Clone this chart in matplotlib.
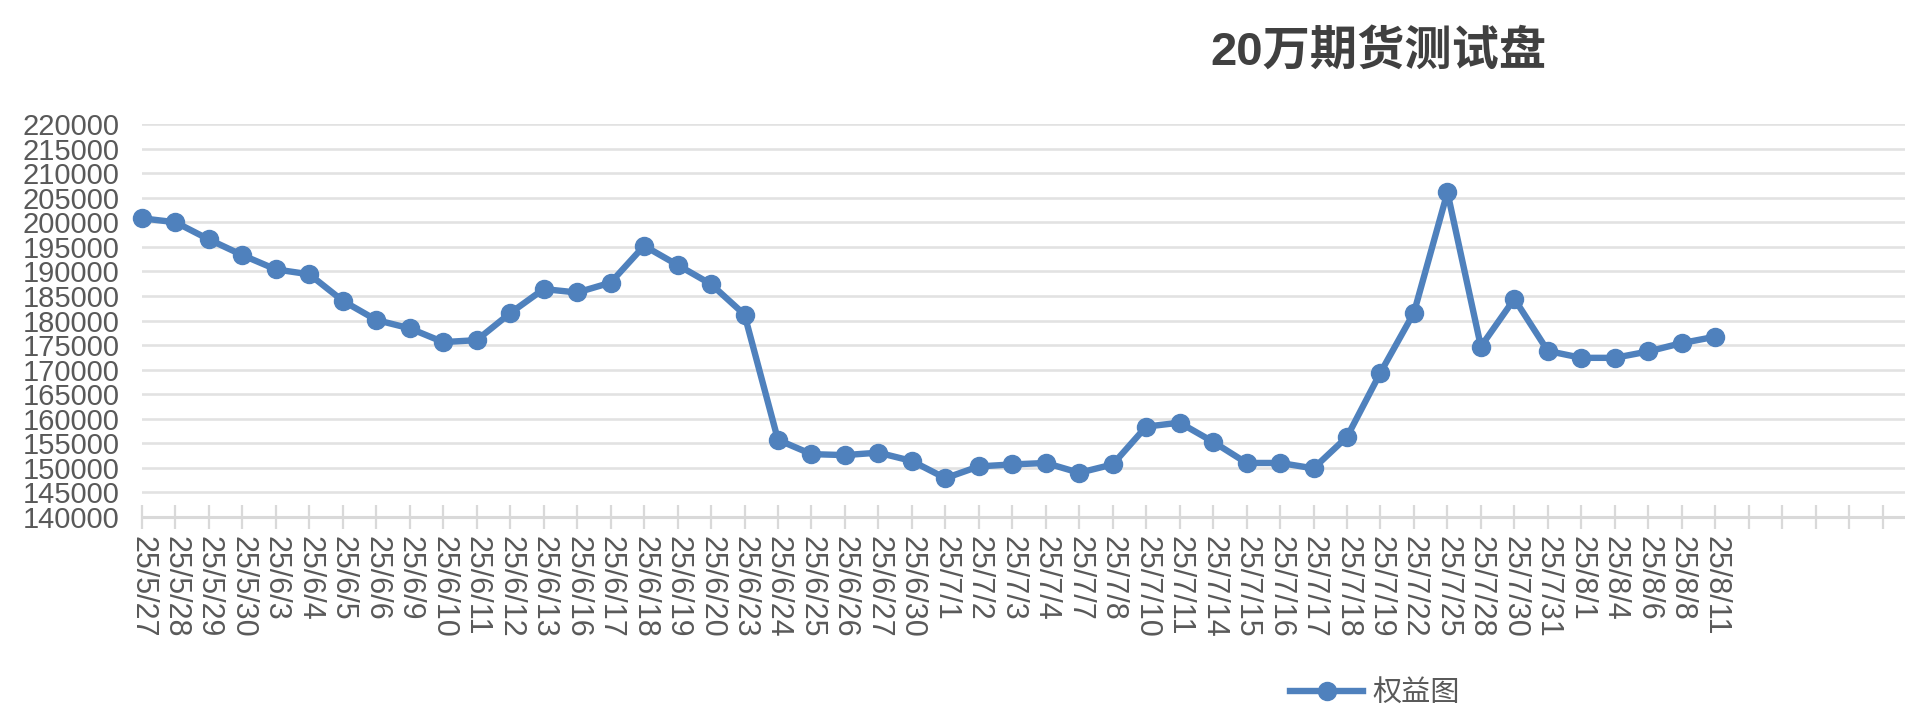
import matplotlib.pyplot as plt

# 日期标签与权益数值
dates = [
    "25/5/27", "25/5/28", "25/5/29", "25/5/30", "25/6/3", "25/6/4", "25/6/5",
    "25/6/6", "25/6/9", "25/6/10", "25/6/11", "25/6/12", "25/6/13", "25/6/16",
    "25/6/17", "25/6/18", "25/6/19", "25/6/20", "25/6/23", "25/6/24", "25/6/25",
    "25/6/26", "25/6/27", "25/6/30", "25/7/1", "25/7/2", "25/7/3", "25/7/4",
    "25/7/7", "25/7/8", "25/7/10", "25/7/11", "25/7/14", "25/7/15", "25/7/16",
    "25/7/17", "25/7/18", "25/7/19", "25/7/22", "25/7/25", "25/7/28", "25/7/30",
    "25/7/31", "25/8/1", "25/8/4", "25/8/6", "25/8/8", "25/8/11",
]
equity = [
    200800, 200000, 196500, 193300, 190400, 189400, 184000,
    180100, 178400, 175600, 176000, 181500, 186400, 185700,
    187700, 195200, 191300, 187400, 181200, 155700, 152800,
    152600, 153100, 151400, 147900, 150300, 150700, 151000,
    149000, 150700, 158400, 159200, 155300, 151000, 151000,
    149900, 156300, 169400, 181600, 206100, 174700, 184400,
    173800, 172400, 172400, 173700, 175400, 176700,
]
n_empty = 5  # 右侧空白类别

y_ticks = list(range(140000, 220001, 5000))

blue = "#4F81BD"
grid_col = "#E2E2E2"
axis_col = "#D9D9D9"
text_col = "#595959"
num_font = ["Liberation Sans", "Noto Sans CJK SC"]

fig = plt.figure(figsize=(19.06, 7.14), dpi=100)
ax = fig.add_axes([142 / 1906, 1 - 517 / 714, 1 - 142 / 1906, (517 - 124) / 714])

x = list(range(len(dates)))
ax.plot(x, equity, color=blue, linewidth=4.6, marker="o", markersize=13,
        markeredgecolor=blue, label="权益图", zorder=3, clip_on=False)

n_ticks = len(dates) + n_empty
ax.set_xlim(0, 52.7)
ax.set_ylim(140000, 220000)
ax.set_xticks(range(n_ticks))
ax.set_xticklabels(dates + [""] * n_empty, rotation=-90, ha="center", va="top",
                   fontsize=22, color=text_col, family=num_font)
ax.set_yticks(y_ticks)
ax.set_yticklabels([str(v) for v in y_ticks], fontsize=21, color=text_col,
                   family=num_font)

ax.tick_params(axis="x", direction="inout", length=17, width=1.6,
               color=axis_col, pad=5)
ax.tick_params(axis="y", length=0, pad=16)

ax.grid(True, axis="y", color=grid_col, linewidth=1.9, zorder=0)
ax.set_axisbelow(True)
for side in ["top", "right", "left"]:
    ax.spines[side].set_visible(False)
ax.spines["bottom"].set_color(axis_col)
ax.spines["bottom"].set_linewidth(2.2)

fig.text(1378 / 1906, 1 - 52 / 714, "20万期货测试盘", ha="center", va="center",
         fontsize=34, fontweight="bold", color="#404040", family=num_font)

fig.legend(loc="center", bbox_to_anchor=(1375 / 1906, 1 - 693 / 714),
           frameon=False, handlelength=2.5, handletextpad=0.3,
           prop={"family": ["Noto Sans CJK SC"], "size": 21},
           labelcolor=text_col)

fig.savefig("out.png", dpi=100)
